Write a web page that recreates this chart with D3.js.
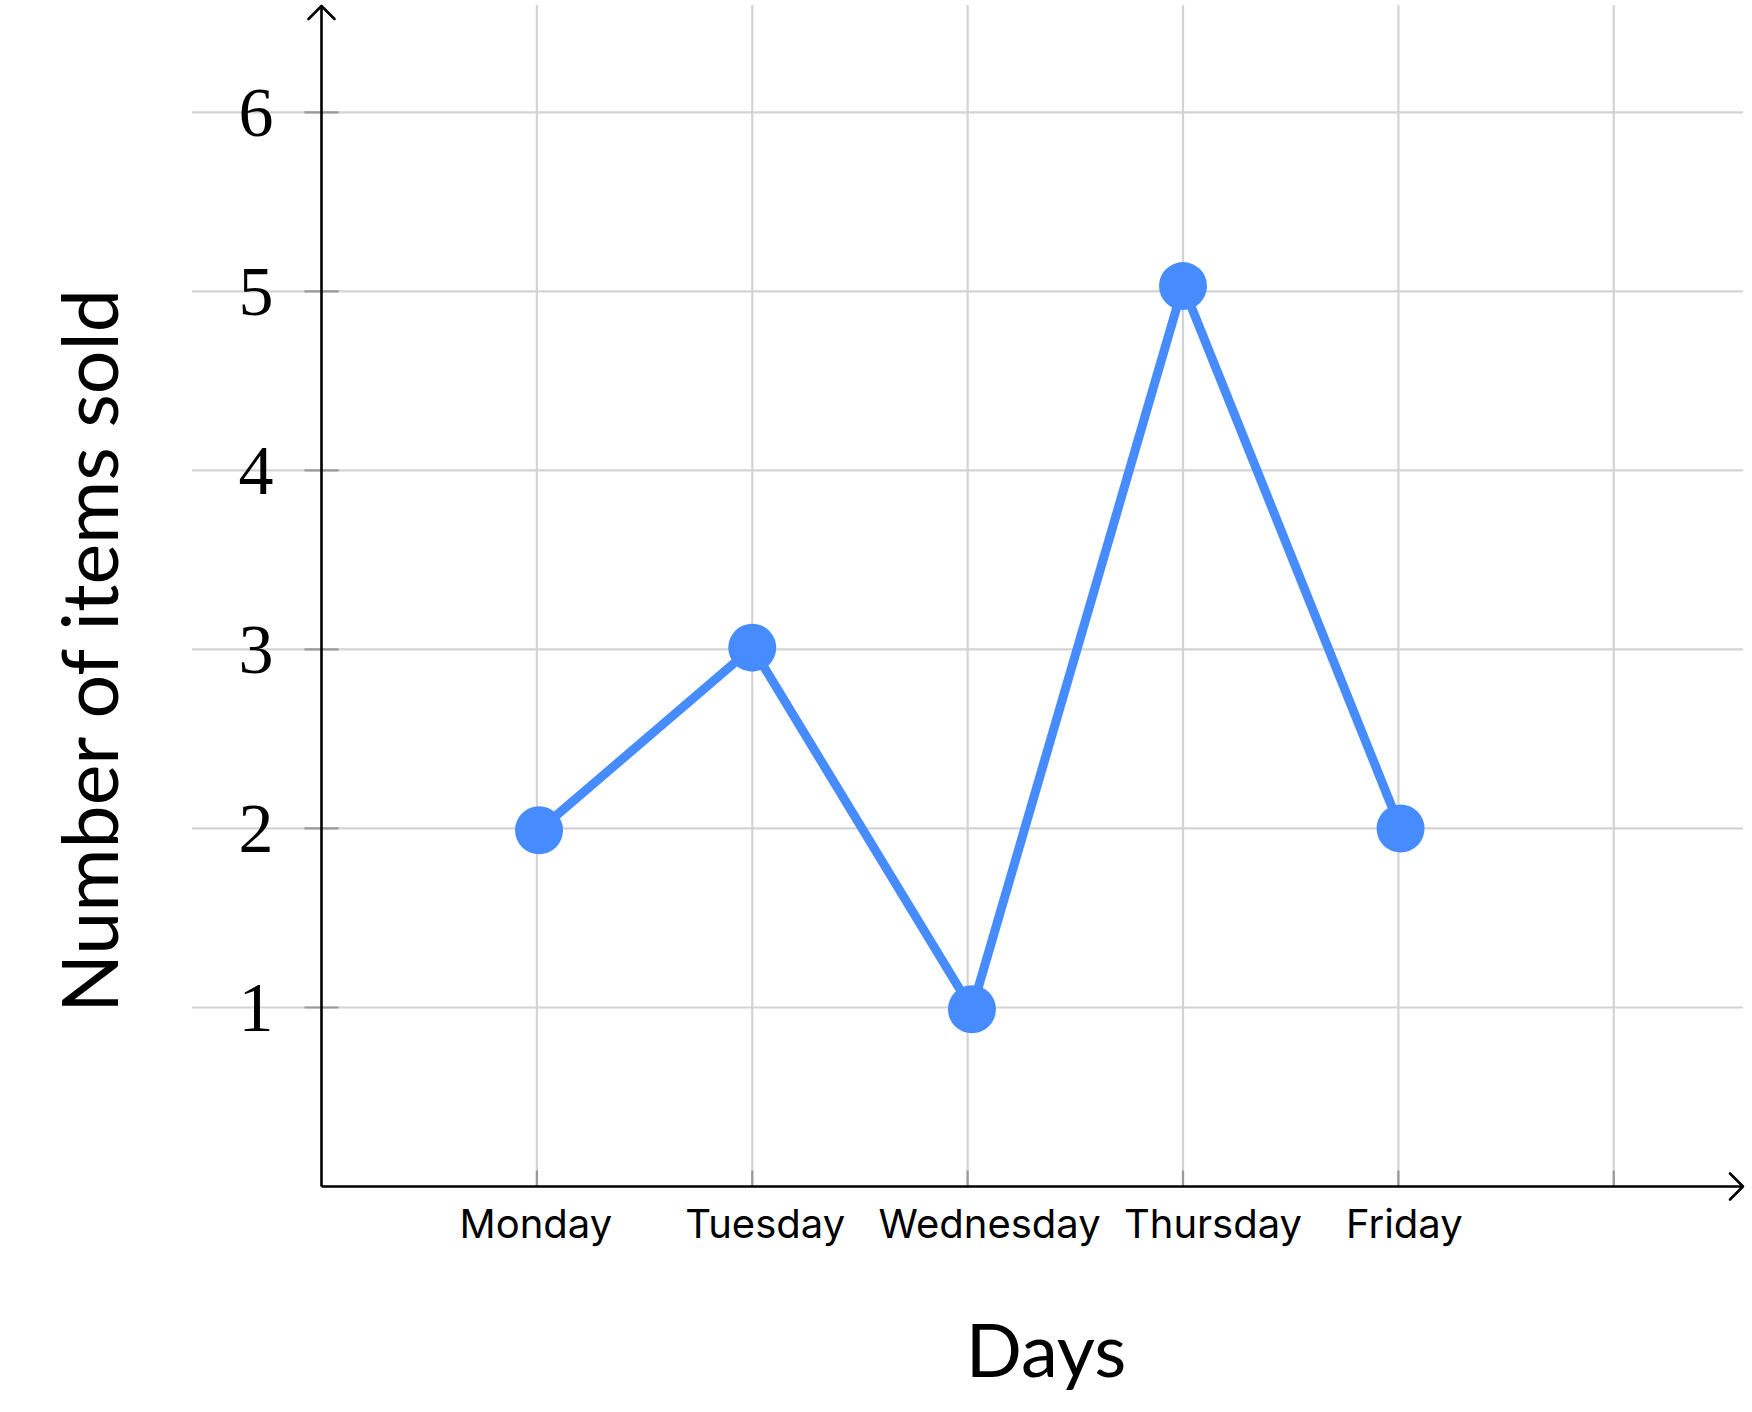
<!DOCTYPE html>
<html>
<head>
<meta charset="utf-8">
<script src="https://cdn.jsdelivr.net/npm/d3@7"></script>
<style>
  html, body { margin: 0; padding: 0; background: #fff; }
  svg { display: block; }
</style>
</head>
<body>
<svg id="chart" width="1752" height="1412"></svg>
<script>
const days = ["Monday", "Tuesday", "Wednesday", "Thursday", "Friday"];
const dayIndex = [1.01, 2, 3.02, 4, 5.01];
const itemsSold = [1.99, 3.01, 0.99, 5.03, 2];
const yTicks = [1, 2, 3, 4, 5, 6];
const xGrid = [1, 2, 3, 4, 5, 6];
const xTickLabels = ["Monday", "Tuesday", "Wednesday", "Thursday", "Friday"];
const xLabel = "Days";
const yLabel = "Number of items sold";

const svg = d3.select("#chart");
const x0 = 321.5, y0 = 1186.5;
const x = d3.scaleLinear().domain([0, 6.6]).range([x0, 1743]);
const y = d3.scaleLinear().domain([0, 6.6]).range([y0, 5]);

const gridColor = "#d3d3d3";
const blue = "#478cff";
// small layout nudges of the day labels, as in the reference
const labelNudge = [-1, 13, 22, 30, 6];

// horizontal gridlines
svg.append("g").selectAll("line").data(yTicks).join("line")
  .attr("x1", 192).attr("x2", x(6.6))
  .attr("y1", d => y(d)).attr("y2", d => y(d))
  .attr("stroke", gridColor).attr("stroke-width", 2.2);

// vertical gridlines
svg.append("g").selectAll("line").data(xGrid).join("line")
  .attr("x1", d => x(d)).attr("x2", d => x(d))
  .attr("y1", 5).attr("y2", y0)
  .attr("stroke", gridColor).attr("stroke-width", 2.2);

// y ticks
svg.append("g").selectAll("line").data(yTicks).join("line")
  .attr("x1", x0 - 17).attr("x2", x0 + 17)
  .attr("y1", d => y(d)).attr("y2", d => y(d))
  .attr("stroke", "#9a9a9a").attr("stroke-width", 2.2);

// x ticks
svg.append("g").selectAll("line").data(xGrid).join("line")
  .attr("x1", d => x(d)).attr("x2", d => x(d))
  .attr("y1", y0 - 16).attr("y2", y0)
  .attr("stroke", "#9a9a9a").attr("stroke-width", 2.2);

// axes
const axisG = svg.append("g").attr("stroke", "#000").attr("fill", "none").attr("stroke-width", 2.6);
axisG.append("line").attr("x1", x0).attr("x2", x(6.6)).attr("y1", y0).attr("y2", y0);
axisG.append("line").attr("x1", x0).attr("x2", x0).attr("y1", y0).attr("y2", y(6.6) + 1);
// arrowheads
axisG.append("path").attr("stroke-linecap", "round").attr("stroke-linejoin", "round")
  .attr("d", `M${x(6.6) - 13},${y0 - 13} L${x(6.6)},${y0} L${x(6.6) - 13},${y0 + 13}`);
axisG.append("path").attr("stroke-linecap", "round").attr("stroke-linejoin", "round")
  .attr("d", `M${x0 - 13},${y(6.6) + 14} L${x0},${y(6.6) + 1} L${x0 + 13},${y(6.6) + 14}`);

// y tick labels
svg.append("g").selectAll("text").data(yTicks).join("text")
  .attr("x", 256).attr("y", d => y(d))
  .attr("dy", "0.33em")
  .attr("text-anchor", "middle")
  .attr("font-family", "'Liberation Serif', serif")
  .attr("font-size", 70)
  .attr("fill", "#000")
  .text(d => d);

// x tick labels
svg.append("g").selectAll("text").data(xTickLabels).join("text")
  .attr("x", (d, i) => x(i + 1) + labelNudge[i])
  .attr("y", 1238)
  .attr("text-anchor", "middle")
  .attr("font-family", "Inter, sans-serif")
  .attr("font-size", 40)
  .attr("fill", "#000")
  .text(d => d);

// axis titles
svg.append("text")
  .attr("x", 1046).attr("y", 1377)
  .attr("text-anchor", "middle")
  .attr("font-family", "Lato, sans-serif")
  .attr("font-size", 74)
  .attr("fill", "#000")
  .text(xLabel);

svg.append("text")
  .attr("transform", "translate(118,651) rotate(-90)")
  .attr("text-anchor", "middle")
  .attr("font-family", "Lato, sans-serif")
  .attr("font-size", 77)
  .attr("fill", "#000")
  .text(yLabel);

// line
const pts = days.map((d, i) => ({ day: d, xi: dayIndex[i], v: itemsSold[i] }));
svg.append("path").datum(pts)
  .attr("fill", "none")
  .attr("stroke", blue)
  .attr("stroke-width", 9)
  .attr("stroke-linejoin", "round")
  .attr("d", d3.line().x(d => x(d.xi)).y(d => y(d.v)));

svg.append("g").selectAll("circle").data(pts).join("circle")
  .attr("cx", d => x(d.xi)).attr("cy", d => y(d.v))
  .attr("r", 24)
  .attr("fill", blue);
</script>
</body>
</html>
